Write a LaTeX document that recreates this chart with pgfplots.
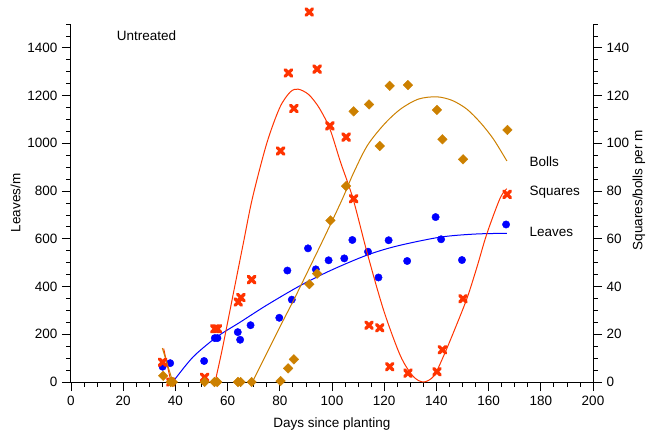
\documentclass[border=0pt]{standalone}
\usepackage{fontspec}
\setmainfont{Liberation Sans}
\usepackage{pgfplots}
\pgfplotsset{compat=1.18}
\definecolor{leafblue}{RGB}{0,0,255}
\definecolor{sqred}{RGB}{255,51,0}
\definecolor{bollorange}{RGB}{204,128,0}
\begin{document}
\fontsize{13.5bp}{16bp}\selectfont
\begin{tikzpicture}
\pgfplotsset{
  common/.style={
    width=522bp, height=358bp, scale only axis,
    xmin=0, xmax=200,
    at={(0,0)}, anchor=south west,
    tick align=outside,
    major tick length=9bp, minor tick length=4.5bp,
    every tick/.style={black, line width=0.8bp},
    axis line style={black, line width=1bp},
    /pgf/number format/assume math mode=true,
    /pgf/number format/1000 sep={},
    tick label style={font=\fontsize{13.5bp}{16bp}\selectfont},
    label style={font=\fontsize{13.5bp}{16bp}\selectfont},
  }
}
\begin{axis}[common,
  axis x line*=bottom, axis y line*=left,
  ymin=0, ymax=1500,
  xtick={0,20,...,200}, minor xtick={0,5,...,200},
  ytick={0,200,...,1400}, minor ytick={0,50,...,1500},
  xlabel={Days since planting}, ylabel={Leaves/m},
  every axis x label/.style={at={(axis description cs:0.5,-0.117)}, anchor=center},
  every axis y label/.style={at={(axis description cs:-0.1063,0.5)}, rotate=90, anchor=center},
]
\addplot[smooth, leafblue, line width=1bp] coordinates {
 (39,0) (44,70) (48,118) (56,190) (65,252) (75,322) (88,405) (100,470)
 (113.5,532) (125,570) (141.5,607) (155,620) (167,623)};
\addplot[only marks, mark=*, mark size=3.7bp, leafblue] coordinates {
 (35.1,64) (38.0,79) (51.0,88) (55.1,184) (56.1,184) (63.9,209) (64.8,177)
 (68.8,238) (79.8,269) (82.9,467) (84.6,345) (90.8,560) (93.8,472) (98.7,510)
 (104.7,518) (107.8,595) (113.8,546) (117.8,438) (121.7,594) (128.8,507)
 (139.7,691) (141.8,598) (149.8,511) (166.7,660)};
\node[anchor=west, inner sep=0pt] at (axis cs:17.5,1451) {Untreated};
\end{axis}
\begin{axis}[common,
  axis x line=none, axis y line*=right,
  ymin=0, ymax=150, clip=false,
  ytick={0,20,...,140}, minor ytick={0,5,...,150},
  ylabel={Squares/bolls per m},
  every axis y label/.style={at={(axis description cs:1.088,0.536)}, rotate=90, anchor=center},
]
\addplot[sqred, line width=1bp] coordinates {(35.5,14) (38.3,0)};
\addplot[smooth, sqred, line width=1bp] coordinates {
 (55.2,0) (58,14) (62,36) (66,58) (69.5,77) (75,100) (80,115) (84,121.5)
 (87,122.7) (91,120.5) (95,115) (99.2,106) (103.3,92) (108,77) (113.5,54)
 (119.8,30) (126.2,11) (131,2.5) (135,0) (139,2.5) (142.8,11) (147,22)
 (151.7,35) (155.5,48) (159.3,62) (164.4,77) (167,81)};
\addplot[bollorange, line width=1bp] coordinates {(35,14.2) (39,0)};
\addplot[smooth, bollorange, line width=1bp] coordinates {
 (69.5,0) (75,12) (80,23) (85.4,34.5) (91,47) (97,60.5) (103.9,76.5)
 (108,87) (113.5,99) (120,108) (126.2,114.3) (133,118.5) (140,119.5)
 (146,118) (151.7,114.3) (157,108.5) (161.9,101.7) (167,92.6)};
\addplot[only marks, mark=x, mark size=4.6bp, sqred, mark options={line width=3.3bp, line cap=round}] coordinates {
 (35.1,8.3) (38.2,0) (51.2,2.0) (55.1,22.3) (56.1,22.3) (64.1,33.5) (65.1,35.4)
 (69.2,42.9) (80.3,96.8) (83.3,129.5) (85.4,114.6) (91.3,155) (94.3,131.1)
 (99.2,107.3) (105.4,102.6) (108.3,76.8) (114.2,23.8) (118.3,22.7) (122.1,6.4)
 (129.1,3.7) (140.2,4.3) (142.3,13.5) (150.2,34.9) (167.1,78.6)};
\addplot[only marks, mark=square*, mark size=3.4bp, bollorange, mark options={rotate=45}] coordinates {
 (35.3,2.6) (38.2,0) (39,0) (51.2,0) (55,0) (56,0) (64,0) (65,0) (69.2,0)
 (80.3,0.4) (83.2,5.7) (85.4,9.5) (91.3,41) (94.3,45.4) (99.4,67.7) (105.4,82.1)
 (108.3,113.4) (114.2,116.3) (118.3,98.9) (122.1,124.1) (129.1,124.4)
 (140.2,114.0) (142.3,101.7) (150.2,93.3) (167.2,105.6)};
\node[anchor=west, inner sep=0pt] at (axis cs:175.6,92.3) {Bolls};
\node[anchor=west, inner sep=0pt] at (axis cs:175.6,79.5) {Squares};
\node[anchor=west, inner sep=0pt] at (axis cs:175.6,62.7) {Leaves};
\end{axis}
\pgfresetboundingbox
\path[use as bounding box] (-71bp,-52bp) rectangle (576bp,382bp);
\end{tikzpicture}
\end{document}
